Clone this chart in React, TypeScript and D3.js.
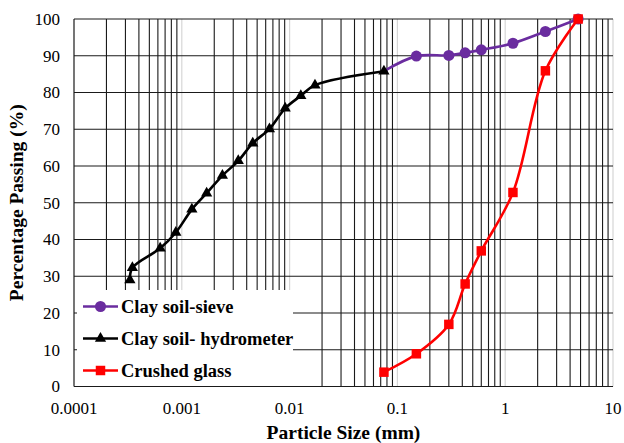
import React from 'react';
import * as d3 from 'd3';

// particle size (mm) and % passing
const sieveSize = [0.15, 0.3, 0.425, 0.6, 1.18, 2.36, 4.75];
const sievePass = [89.9, 90.1, 90.8, 91.6, 93.4, 96.6, 100];

const hydroSize = [0.00033, 0.000348, 0.00063, 0.00088, 0.00124, 0.0017, 0.00238, 0.00334, 0.00455, 0.0065, 0.0091, 0.0127, 0.0172, 0.075];
const hydroPass = [29.0, 32.3, 37.6, 41.9, 48.2, 52.6, 57.4, 61.4, 66.2, 70.1, 75.7, 79.1, 82.0, 85.8];

const glassSize = [0.075, 0.15, 0.3, 0.425, 0.6, 1.18, 2.36, 4.75];
const glassPass = [3.9, 8.9, 16.9, 27.9, 36.9, 52.8, 85.9, 100];

const xTicks = [0.0001, 0.001, 0.01, 0.1, 1, 10];
const xTickLabels = ['0.0001', '0.001', '0.01', '0.1', '1', '10'];
const yTicks = [0, 10, 20, 30, 40, 50, 60, 70, 80, 90, 100];

const legendNames = ['Clay soil-sieve', 'Clay soil- hydrometer', 'Crushed glass'];

const W = 624;
const H = 443;
const left = 74, right = 613, top = 19, bottom = 386.5;

const PURPLE = '#6a2c9f';
const RED = '#ff0000';
const FONT = "'Liberation Serif', 'DejaVu Serif', 'Times New Roman', serif";

export default function App() {
  const x = d3.scaleLog().domain([0.0001, 10]).range([left, right]);
  const y = d3.scaleLinear().domain([0, 100]).range([bottom, top]);

  const zip = (xs: number[], ys: number[]) => xs.map((v, i) => [v, ys[i]] as [number, number]);
  const sieve = zip(sieveSize, sievePass);
  const hydro = zip(hydroSize, hydroPass);
  const glass = zip(glassSize, glassPass);
  // sieve curve continues from the last hydrometer reading
  const sieveLine = [hydro[hydro.length - 1], ...sieve];

  const line = d3.line<[number, number]>()
    .x(d => x(d[0]))
    .y(d => y(d[1]))
    .curve(d3.curveCatmullRom.alpha(0.5));

  const tri = d3.symbol(d3.symbolTriangle, 55)();
  const sq = d3.symbol(d3.symbolSquare, 90)();

  // minor grid: 2..9 in each decade
  const minor: number[] = [];
  for (let e = -4; e < 1; e++) {
    for (let k = 2; k <= 9; k++) minor.push(k * Math.pow(10, e));
  }
  const decades = [0.001, 0.01, 0.1, 1, 10];

  const legY = [306.5, 338.5, 370.5];
  const txt = { fontFamily: FONT };

  return (
    <svg width={W} height={H} style={{ position: 'absolute', left: 0, top: 0, background: '#fff' }}>
      <rect x={0} y={0} width={W} height={H} fill="#fff" />

      {/* grid */}
      {decades.map(v => (
        <line key={'d' + v} x1={x(v)} x2={x(v)} y1={top} y2={bottom} stroke="#d6d6d6" strokeWidth={1.2} />
      ))}
      {minor.map(v => (
        <line key={'m' + v} x1={x(v)} x2={x(v)} y1={top} y2={bottom} stroke="#1a1a1a" strokeWidth={1.1} />
      ))}
      {yTicks.slice(1).map(v => (
        <line key={'h' + v} x1={left} x2={right} y1={y(v)} y2={y(v)} stroke="#1a1a1a" strokeWidth={1.1} />
      ))}

      {/* legend box sits over the grid */}
      <rect x={left} y={290} width={293 - left} height={bottom - 290} fill="#fff" />
      {yTicks.slice(1, 3).map(v => (
        <line key={'t' + v} x1={left} x2={left + 3} y1={y(v)} y2={y(v)} stroke="#1a1a1a" strokeWidth={1} />
      ))}

      {/* axes frame */}
      <line x1={left} x2={left} y1={top} y2={bottom} stroke="#1a1a1a" strokeWidth={1.2} />
      <line x1={left} x2={right} y1={bottom} y2={bottom} stroke="#1a1a1a" strokeWidth={1.2} />

      {/* series */}
      <path d={line(sieveLine) || ''} fill="none" stroke={PURPLE} strokeWidth={2.6} />
      {sieve.map((d, i) => (
        <circle key={'s' + i} cx={x(d[0])} cy={y(d[1])} r={5.5} fill={PURPLE} />
      ))}
      <path d={line(hydro) || ''} fill="none" stroke="#000" strokeWidth={2.6} />
      {hydro.map((d, i) => (
        <path key={'h' + i} d={tri || ''} transform={`translate(${x(d[0])},${y(d[1])})`} fill="#000" />
      ))}
      <path d={line(glass) || ''} fill="none" stroke={RED} strokeWidth={2.6} />
      {glass.map((d, i) => (
        <path key={'g' + i} d={sq || ''} transform={`translate(${x(d[0])},${y(d[1])})`} fill={RED} />
      ))}

      {/* y tick labels */}
      {yTicks.map(v => (
        <text key={'yl' + v} x={60} y={y(v)} dy="0.35em" textAnchor="end" style={txt} fontSize={17} fill="#000">{v}</text>
      ))}
      {/* x tick labels */}
      {xTicks.map((v, i) => (
        <text key={'xl' + v} x={x(v)} y={414} textAnchor="middle" style={txt} fontSize={17} fill="#000">{xTickLabels[i]}</text>
      ))}

      <text x={(left + right) / 2} y={439} textAnchor="middle" style={txt} fontSize={19.5} fontWeight="bold" fill="#000">Particle Size (mm)</text>
      <text transform={`translate(23,${(top + bottom) / 2}) rotate(-90)`} textAnchor="middle" style={txt} fontSize={19.5} fontWeight="bold" fill="#000">Percentage Passing (%)</text>

      {/* legend */}
      {legendNames.map((name, i) => {
        const cy = legY[i];
        const col = i === 0 ? PURPLE : i === 1 ? '#000' : RED;
        return (
          <g key={name}>
            <line x1={83} x2={118} y1={cy} y2={cy} stroke={col} strokeWidth={2.6} />
            {i === 0 && <circle cx={100.5} cy={cy} r={5.5} fill={col} />}
            {i === 1 && <path d={tri || ''} transform={`translate(100.5,${cy})`} fill={col} />}
            {i === 2 && <path d={sq || ''} transform={`translate(100.5,${cy})`} fill={col} />}
            <text x={121} y={cy} dy="0.35em" style={txt} fontSize={18.5} fontWeight="bold" fill="#000">{name}</text>
          </g>
        );
      })}
    </svg>
  );
}
